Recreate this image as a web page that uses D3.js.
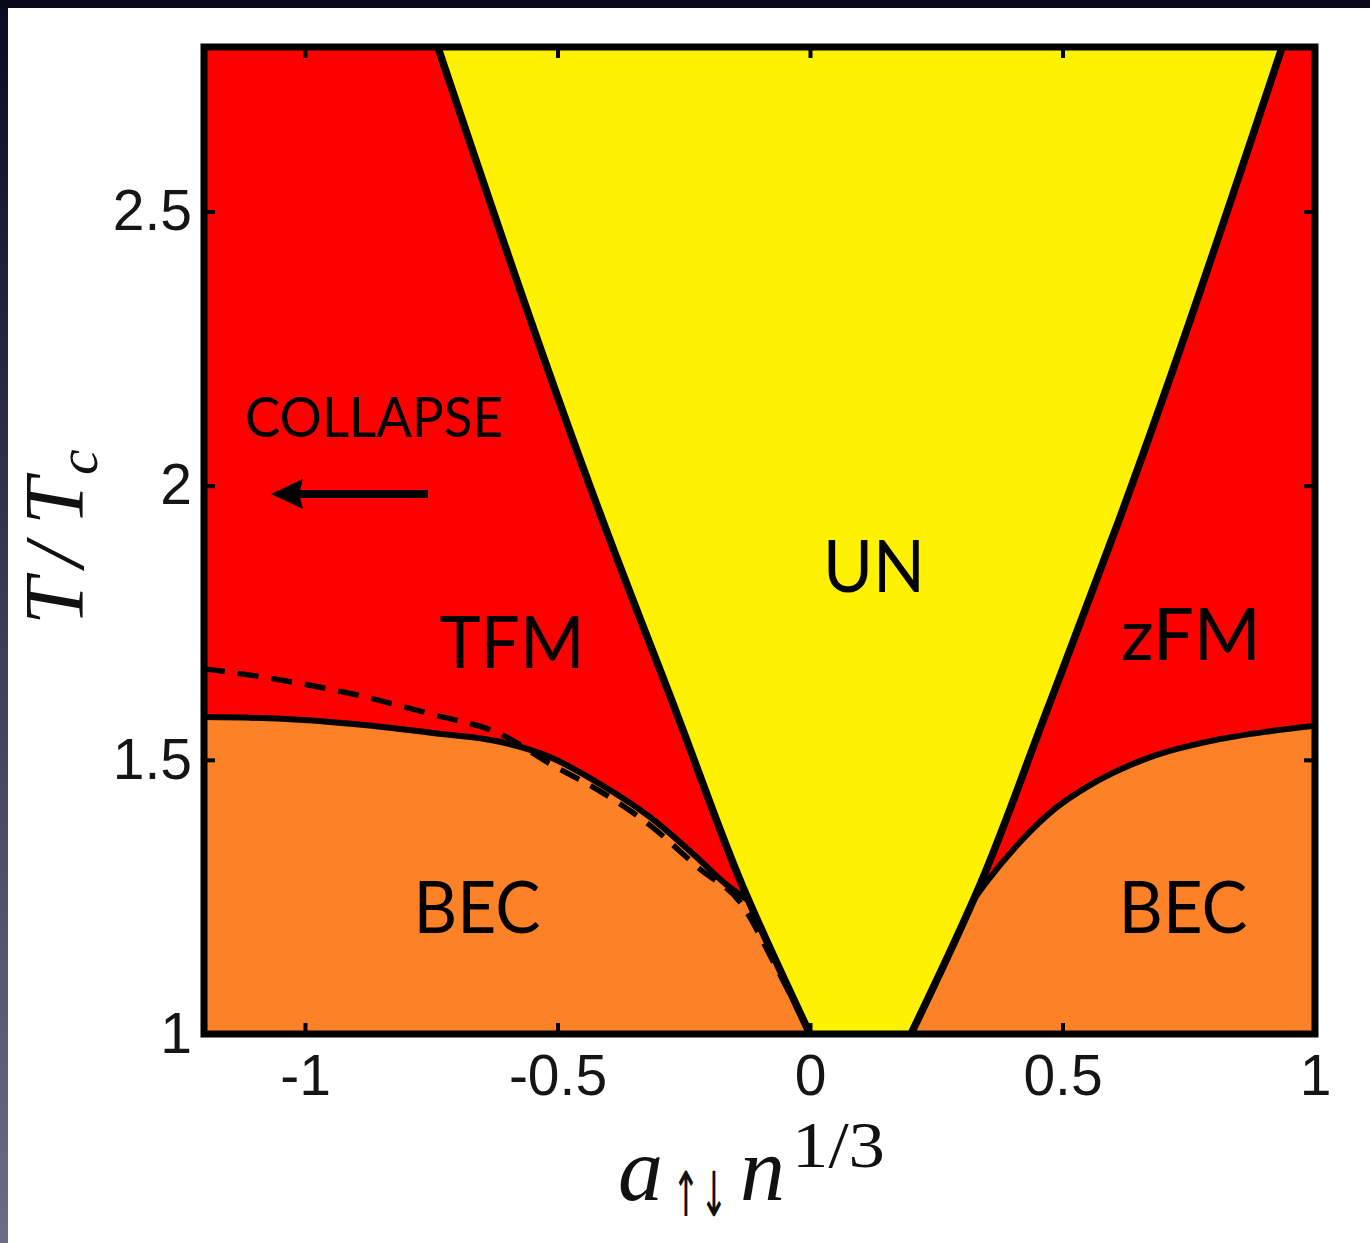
<!DOCTYPE html>
<html>
<head>
<meta charset="utf-8">
<script src="https://cdn.jsdelivr.net/npm/d3@7"></script>
<style>
  body { margin: 0; background: #fff; }
  svg { display: block; }
</style>
</head>
<body>
<div id="chart"></div>
<script>
// axis ranges and ticks
const xDomain = [-1.2, 1];
const yDomain = [1, 2.8];
const xTicks = [-1, -0.5, 0, 0.5, 1];
const xTickLabels = ['-1', '-0.5', '0', '0.5', '1'];
const yTicks = [1, 1.5, 2, 2.5];
const yTickLabels = ['1', '1.5', '2', '2.5'];

// phase boundaries, [a n^(1/3), T/Tc]
const unLeft  = [[0, 1], [-0.136, 1.275], [-0.262, 1.58], [-0.41, 1.935], [-0.737, 2.8]];
const unRight = [[0.2, 1], [0.338, 1.275], [0.465, 1.58], [0.611, 1.935], [0.935, 2.8]];
const becLeft = [[-1.2, 1.578], [-1.045, 1.575], [-0.878, 1.563], [-0.747, 1.549], [-0.614, 1.533],
                 [-0.515, 1.505], [-0.416, 1.456], [-0.316, 1.395], [-0.217, 1.316], [-0.165, 1.272],
                 [-0.124, 1.245]];
const becRight = [[0.324, 1.245], [0.352, 1.28], [0.418, 1.352], [0.484, 1.41], [0.551, 1.452],
                  [0.671, 1.504], [0.802, 1.536], [0.901, 1.551], [1.0, 1.562]];
const becLeftDashed = [[-1.2, 1.666], [-1.057, 1.647], [-0.906, 1.62], [-0.753, 1.584], [-0.608, 1.545],
                       [-0.515, 1.493], [-0.416, 1.443], [-0.316, 1.38], [-0.217, 1.3], [-0.138, 1.24],
                       [-0.066, 1.12], [0, 1]];

const phaseNames = ['UN', 'TFM', 'zFM', 'BEC', 'BEC'];

const W = 1370, H = 1243;
const plot = {left: 204, right: 1315, top: 47, bottom: 1034};

const svg = d3.select('#chart').append('svg')
   .attr('width', W)
   .attr('height', H);

// dark slide border round the figure
const grad = svg.append('defs').append('linearGradient')
   .attr('id', 'edge').attr('x1', 0).attr('y1', 0).attr('x2', 0).attr('y2', 1);
grad.append('stop').attr('offset', '0%').attr('stop-color', '#0a0b20');
grad.append('stop').attr('offset', '100%').attr('stop-color', '#6c6c84');
svg.append('rect').attr('width', W).attr('height', H).attr('fill', 'url(#edge)');
svg.append('rect').attr('x', 0).attr('width', W).attr('height', 8).attr('fill', '#070819');
svg.append('rect').attr('x', 8).attr('y', 8).attr('width', W - 8).attr('height', H - 8).attr('fill', '#fff');

svg.select('defs').append('clipPath').attr('id', 'plotclip')
   .append('rect')
   .attr('x', plot.left).attr('y', plot.top)
   .attr('width', plot.right - plot.left).attr('height', plot.bottom - plot.top);

const x = d3.scaleLinear().domain(xDomain).range([plot.left, plot.right]);
const y = d3.scaleLinear().domain(yDomain).range([plot.bottom, plot.top]);

const g = svg.append('g').attr('clip-path', 'url(#plotclip)');

// background phase (ferromagnetic, red)
g.append('rect')
   .attr('x', x(xDomain[0])).attr('y', y(yDomain[1]))
   .attr('width', x(xDomain[1]) - x(xDomain[0]))
   .attr('height', y(yDomain[0]) - y(yDomain[1]))
   .attr('fill', '#ff0000');

const lineX = d3.line().x(d => x(d[0])).y(d => y(d[1])).curve(d3.curveMonotoneX);
const lineY = d3.line().x(d => x(d[0])).y(d => y(d[1])).curve(d3.curveMonotoneY);

// BEC regions (orange); the part that spills right of the UN line is hidden by the yellow
const mid = (unLeft[0][0] + unRight[0][0]) / 2;
const lastL = becLeft[becLeft.length - 1];
g.append('path')
   .attr('d', lineX(becLeft) +
      `L${x(mid)},${y(lastL[1])}L${x(mid)},${y(yDomain[0])}L${x(xDomain[0])},${y(yDomain[0])}Z`)
   .attr('fill', '#fd8126');
g.append('path')
   .attr('d', `M${x(mid)},${y(yDomain[0])}L${x(mid)},${y(becRight[0][1])}` +
      lineX(becRight).replace(/^M/, 'L') +
      `L${x(xDomain[1])},${y(yDomain[0])}Z`)
   .attr('fill', '#fd8126');

// UN region (yellow)
const unBand = unLeft.map((p, i) => ({T: p[1], a0: p[0], a1: unRight[i][0]}));
g.append('path')
   .datum(unBand)
   .attr('d', d3.area()
      .y(d => y(d.T))
      .x0(d => x(d.a0))
      .x1(d => x(d.a1))
      .curve(d3.curveMonotoneY))
   .attr('fill', '#fff200');

// boundary lines
g.append('path').attr('d', lineX(becLeftDashed))
   .attr('fill', 'none').attr('stroke', '#000').attr('stroke-width', 5.5)
   .attr('stroke-dasharray', '21,13');
[becLeft, becRight].forEach(pts => {
   g.append('path').attr('d', lineX(pts))
      .attr('fill', 'none').attr('stroke', '#000').attr('stroke-width', 6)
      .attr('stroke-linecap', 'round');
});
[unLeft, unRight].forEach(pts => {
   g.append('path').attr('d', lineY(pts))
      .attr('fill', 'none').attr('stroke', '#000').attr('stroke-width', 7.5);
});

// axes: inward ticks on all four sides, labels bottom and left
const tickFont = '"Liberation Sans", Arial, sans-serif';
function styleAxis(sel) {
   sel.select('.domain').remove();
   sel.selectAll('.tick line').attr('stroke', '#000').attr('stroke-width', 4);
   sel.selectAll('.tick text').attr('fill', '#151515')
      .style('font-family', tickFont).style('font-size', '57px');
}

svg.append('g').attr('transform', `translate(0,${plot.bottom})`)
   .call(d3.axisBottom(x).tickValues(xTicks).tickFormat((d, i) => xTickLabels[i])
      .tickSize(-11).tickPadding(21))
   .call(styleAxis);
svg.append('g').attr('transform', `translate(0,${plot.top})`)
   .call(d3.axisTop(x).tickValues(xTicks).tickFormat('').tickSize(-11))
   .call(styleAxis);
svg.append('g').attr('transform', `translate(${plot.left},0)`)
   .call(d3.axisLeft(y).tickValues(yTicks).tickFormat((d, i) => yTickLabels[i])
      .tickSize(-11).tickPadding(12))
   .call(styleAxis);
svg.append('g').attr('transform', `translate(${plot.right},0)`)
   .call(d3.axisRight(y).tickValues(yTicks).tickFormat('').tickSize(-11))
   .call(styleAxis);

// frame
svg.append('rect')
   .attr('x', plot.left).attr('y', plot.top)
   .attr('width', plot.right - plot.left).attr('height', plot.bottom - plot.top)
   .attr('fill', 'none').attr('stroke', '#000').attr('stroke-width', 7);

// phase names
const labelFont = 'Lato, "Open Sans", sans-serif';
const labelPos = [
   {cx: 874, base: 592, w: 102},
   {cx: 512, base: 668, w: 145},
   {cx: 1191, base: 660, w: 140},
   {cx: 477, base: 933, w: 127},
   {cx: 1183, base: 933, w: 129}
];
phaseNames.forEach((name, i) => {
   const p = labelPos[i];
   svg.append('text')
      .attr('x', p.cx - p.w / 2).attr('y', p.base)
      .attr('textLength', p.w).attr('lengthAdjust', 'spacingAndGlyphs')
      .style('font-family', labelFont).style('font-size', '71px')
      .attr('fill', '#000')
      .text(name);
});

svg.append('text')
   .attr('x', 245).attr('y', 437)
   .attr('textLength', 258).attr('lengthAdjust', 'spacingAndGlyphs')
   .style('font-family', labelFont).style('font-size', '56px')
   .attr('fill', '#000')
   .text('COLLAPSE');

// arrow pointing to the collapse side
svg.append('line')
   .attr('x1', 428).attr('y1', 494).attr('x2', 296).attr('y2', 494)
   .attr('stroke', '#000').attr('stroke-width', 8);
svg.append('path')
   .attr('d', 'M271,494L303,479L299,494L303,509Z')
   .attr('fill', '#000');

// axis titles (LaTeX look)
const serif = '"Liberation Serif", "DejaVu Serif", serif';
const xl = svg.append('text')
   .attr('fill', '#111')
   .style('font-family', serif).style('font-size', '90px');
xl.append('tspan').attr('x', 618).attr('y', 1200).style('font-style', 'italic').text('a');
xl.append('tspan').attr('x', 740).attr('y', 1200).style('font-style', 'italic').text('n');
xl.append('tspan').attr('x', 792).attr('y', 1167).style('font-size', '66px')
   .attr('textLength', 93).attr('lengthAdjust', 'spacingAndGlyphs')
   .text('1/3');
// spin subscript, squeezed sideways like the TeX arrows
svg.append('text')
   .attr('transform', 'translate(672,1216) scale(0.54,1)')
   .attr('fill', '#111')
   .style('font-family', '"DejaVu Sans", sans-serif').style('font-size', '62px')
   .text('↑↓');

const yl = svg.append('text')
   .attr('transform', 'translate(83,625) rotate(-90)')
   .attr('fill', '#111')
   .style('font-family', serif).style('font-style', 'italic').style('font-size', '85px');
yl.append('tspan').attr('x', 0).attr('y', 0).text('T');
yl.append('tspan').attr('x', 58).attr('y', 0).text('/');
yl.append('tspan').attr('x', 100).attr('y', 0).text('T');
yl.append('tspan').attr('x', 150).attr('y', 14).style('font-size', '58px').text('c');
</script>
</body>
</html>
